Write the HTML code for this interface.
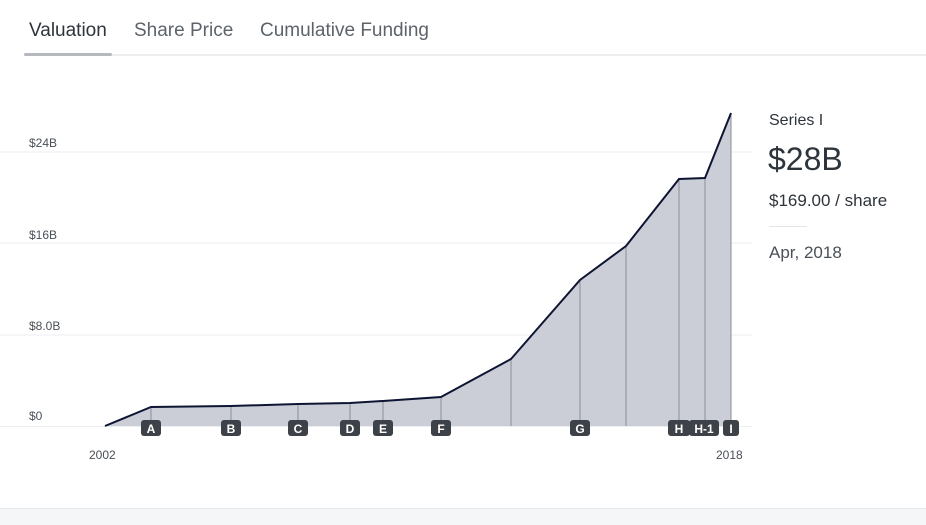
<!DOCTYPE html>
<html><head><style>
body{margin:0;width:926px;height:524px;background:#fff;font-family:"Liberation Sans",sans-serif;position:relative;overflow:hidden}
.tab{position:absolute;top:20px;font-size:19px;color:#5d636b}
.bot{position:absolute;left:0;top:508px;width:926px;height:16px;background:#f5f6f7;border-top:1px solid #e6e8ea}
</style></head><body>
<div class="tab" style="left:29px;color:#2e343b">Valuation</div>
<div class="tab" style="left:134px">Share Price</div>
<div class="tab" style="left:260px">Cumulative Funding</div>
<div style="position:absolute;left:24px;top:54px;width:902px;height:2px;background:#eceef0"></div>
<div style="position:absolute;left:24px;top:53px;width:88px;height:3px;background:#b5b9be;border-radius:2px"></div>
<svg width="926" height="524" style="position:absolute;left:0;top:0" font-family="Liberation Sans, sans-serif">
<g stroke="#eceef0" stroke-width="1">
<line x1="0" y1="152" x2="752" y2="152"/><line x1="0" y1="243" x2="752" y2="243"/><line x1="0" y1="335" x2="752" y2="335"/><line x1="0" y1="426.5" x2="752" y2="426.5"/>
</g>
<g font-size="12" fill="#4a5058">
<text x="29" y="147">$24B</text><text x="29" y="239">$16B</text><text x="29" y="330">$8.0B</text><text x="29" y="420">$0</text>
<text x="89" y="459">2002</text><text x="716" y="459">2018</text>
</g>
<path d="M105,426 L151,407 L231,406 L298,404 L350,403 L383,401 L441,397 L511,359 L580,280 L626,246 L679,179 L705,178 L731,113 L731,426 Z" fill="#cbced6"/>
<g stroke="#8a8e96" stroke-width="1">
<line x1="151" y1="407" x2="151" y2="426"/><line x1="231" y1="406" x2="231" y2="426"/><line x1="298" y1="404" x2="298" y2="426"/><line x1="350" y1="403" x2="350" y2="426"/><line x1="383" y1="401" x2="383" y2="426"/><line x1="441" y1="397" x2="441" y2="426"/><line x1="511" y1="359" x2="511" y2="426"/><line x1="580" y1="280" x2="580" y2="426"/><line x1="626" y1="246" x2="626" y2="426"/><line x1="679" y1="179" x2="679" y2="426"/><line x1="705" y1="178" x2="705" y2="426"/><line x1="731" y1="113" x2="731" y2="426"/>
</g>
<path d="M105,426 L151,407 L231,406 L298,404 L350,403 L383,401 L441,397 L511,359 L580,280 L626,246 L679,179 L705,178 L731,113" fill="none" stroke="#0e1533" stroke-width="2"/>
<g fill="#3d4248">
<rect x="141" y="420" width="20" height="16" rx="3"/><rect x="221" y="420" width="20" height="16" rx="3"/><rect x="288" y="420" width="20" height="16" rx="3"/><rect x="340" y="420" width="20" height="16" rx="3"/><rect x="373" y="420" width="20" height="16" rx="3"/><rect x="431" y="420" width="20" height="16" rx="3"/><rect x="570" y="420" width="20" height="16" rx="3"/><rect x="668" y="420" width="22" height="16" rx="3"/><rect x="689" y="420" width="30" height="16" rx="3"/><rect x="723" y="420" width="16" height="16" rx="3"/>
</g>
<g fill="#fff" font-size="12" font-weight="bold" text-anchor="middle">
<text x="151" y="433">A</text><text x="231" y="433">B</text><text x="298" y="433">C</text><text x="350" y="433">D</text><text x="383" y="433">E</text><text x="441" y="433">F</text><text x="580" y="433">G</text><text x="679" y="433">H</text><text x="704" y="433">H-1</text><text x="731" y="433">I</text>
</g>
</svg>
<div style="position:absolute;left:769px;top:112px;font-size:16px;color:#2e343b">Series I</div>
<div style="position:absolute;left:768px;top:141px;font-size:32px;color:#2e343b">$28B</div>
<div style="position:absolute;left:769px;top:191px;font-size:17px;color:#2e343b">$169.00 / share</div>
<div style="position:absolute;left:769px;top:226px;width:38px;height:1px;background:#e2e4e7"></div>
<div style="position:absolute;left:769px;top:243px;font-size:17px;color:#4a5058">Apr, 2018</div>
<div class="bot"></div>
</body></html>
